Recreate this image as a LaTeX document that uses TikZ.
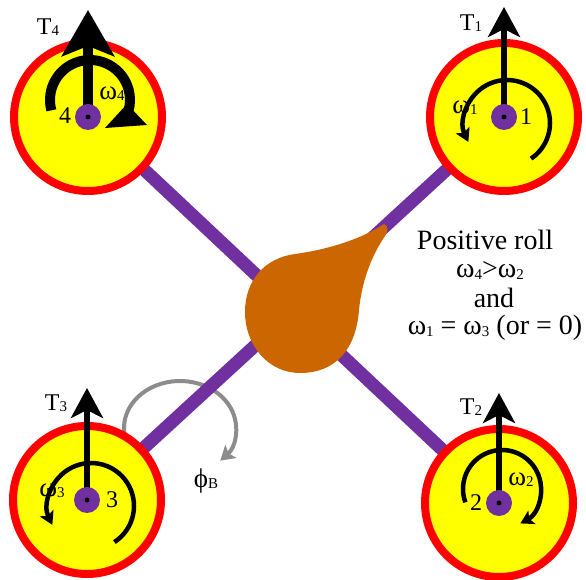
\documentclass[tikz,border=0pt]{standalone}
\usepackage{fontspec}
\setmainfont{Liberation Serif}
\usetikzlibrary{arrows.meta}
\definecolor{armpurple}{HTML}{7030A0}
\definecolor{bodyorange}{HTML}{CC6600}
\definecolor{rimred}{HTML}{FF0000}
\definecolor{discyellow}{HTML}{FFFF00}
\definecolor{rollgray}{HTML}{8C8C8C}
% small lowered index, as in T_1 or omega_1
\newcommand\lowidx[1]{\raisebox{-1.5pt}{\fontsize{15}{15}\selectfont #1}}
\newcommand\smidx[1]{\raisebox{-1pt}{\fontsize{15}{15}\selectfont #1}}

\begin{document}
\begin{tikzpicture}[x=1pt,y=1pt,
  arm/.style={line width=13pt, armpurple},
  rotor/.style={circle, minimum size=148pt, inner sep=0pt, draw=rimred, fill=discyellow, line width=8pt},
  hub/.style={circle, minimum size=26pt, inner sep=0pt, fill=armpurple},
  pin/.style={circle, minimum size=5pt, inner sep=0pt, fill=black},
  thrust/.style={line width=6pt, -{Stealth[length=30pt, width=32pt, inset=8pt]}},
  bigthrust/.style={line width=10pt, -{Stealth[length=46pt, width=52pt, inset=10pt]}},
  spinarc/.style={line width=4.5pt, -{Stealth[length=13pt, width=15pt, inset=3pt]}},
  rollarc/.style={line width=4pt, rollgray, -{Stealth[length=14pt, width=17pt, inset=3pt]}},
  tlbl/.style={font=\fontsize{24}{24}\selectfont, inner sep=0pt},
  numlbl/.style={font=\fontsize{24}{24}\selectfont, inner sep=0pt},
  wlbl/.style={font=\fontsize{27}{27}\selectfont, inner sep=0pt},
  notelbl/.style={font=\fontsize{28}{28}\selectfont, inner sep=0pt, anchor=base}]

\useasboundingbox (0,0) rectangle (586,580);

% rotor centres
\coordinate (c4) at (88,463);
\coordinate (c1) at (504,463);
\coordinate (c3) at (87,80);
\coordinate (c2) at (499,77);

% roll direction arc around the body axis
\coordinate (rollc) at (180,152);
\draw[rollarc] (rollc) ++(200:56pt and 47pt) arc[start angle=200, end angle=-44, x radius=56, y radius=47];

% frame arms
\draw[arm] (c4) -- (c2);
\draw[arm] (c1) -- (c3);

% rotor discs
\node[rotor] (r4) at (c4) {};
\node[rotor] (r1) at (c1) {};
\node[rotor] (r3) at (c3) {};
\node[rotor] (r2) at (c2) {};

% central body
\fill[bodyorange] (384,356) .. controls (389,354) and (388,348) .. (385,344)
  .. controls (372,325) and (362,300) .. (359,270)
  .. controls (356,230) and (335,207) .. (300,207)
  .. controls (268,207) and (245,235) .. (245,268)
  .. controls (245,300) and (265,322) .. (295,326)
  .. controls (325,330) and (360,340) .. (384,356) -- cycle;

% angular speed labels (drawn under the spin arrows)
\node[wlbl] (w4) at (112,486) {ω\smidx{4}};
\node[wlbl] (w1) at (465,472) {ω\smidx{1}};
\node[wlbl] (w3) at (52,89) {ω\smidx{3}};
\node[wlbl] (w2) at (521,100) {ω\smidx{2}};

% spin arrows
\coordinate (s1) at (507,457);
\coordinate (s3) at (91,74);
\coordinate (s2) at (502,91);
\coordinate (s4) at (90,480);
\draw[spinarc] (s1) ++(-56:43pt) arc[start angle=-56, end angle=206, radius=43];
\draw[spinarc] (s3) ++(-57:43pt) arc[start angle=-57, end angle=206, radius=43];
\draw[spinarc] (s2) ++(200:39pt) arc[start angle=200, end angle=-62, radius=39];
\draw[line width=10pt] (s4) ++(195:40pt) arc[start angle=195, end angle=-17, radius=40];
\coordinate (h4a) at (105,452);
\coordinate (h4b) at (127,476);
\coordinate (h4c) at (147,455);
\fill (h4a) -- (h4b) -- (h4c) -- cycle;

% thrust arrows
\coordinate (t4) at (88,570);
\coordinate (t1) at (504,573);
\coordinate (t3) at (87,192);
\coordinate (t2) at (499,187);
\draw[bigthrust] (c4) -- (t4);
\draw[thrust] (c1) -- (t1);
\draw[thrust] (c3) -- (t3);
\draw[thrust] (c2) -- (t2);

% hubs
\foreach \c in {c1,c2,c3,c4}{
  \node[hub] (hub-\c) at (\c) {};
  \node[pin] (pin-\c) at (\c) {};
}

% thrust labels
\node[tlbl] (T4) at (48,553) {T\lowidx{4}};
\node[tlbl] (T1) at (471,557) {T\lowidx{1}};
\node[tlbl] (T3) at (56,177) {T\lowidx{3}};
\node[tlbl] (T2) at (471,173) {T\lowidx{2}};

% rotor numbers
\node[numlbl] (n4) at (65,464) {4};
\node[numlbl] (n1) at (526,463) {1};
\node[numlbl] (n3) at (112,80) {3};
\node[numlbl] (n2) at (476,77) {2};

% roll angle label
\node[wlbl] (phiB) at (206,99) {ϕ\smidx{B}};

% condition text
\node[notelbl] (line1) at (485,330) {Positive roll};
\node[notelbl] (line2) at (490,302) {ω\lowidx{4}>ω\lowidx{2}};
\node[notelbl] (line3) at (494,272) {and};
\node[notelbl] (line4) at (495,245) {ω\lowidx{1} = ω\lowidx{3} (or = 0)};

\end{tikzpicture}
\end{document}
